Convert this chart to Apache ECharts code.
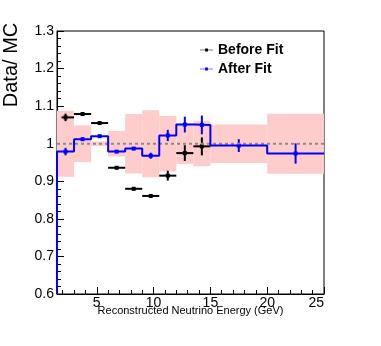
<!DOCTYPE html>
<html>
<head>
<meta charset="utf-8">
<script src="https://cdn.jsdelivr.net/npm/echarts@6/dist/echarts.min.js"></script>
<style>
    html, body { margin: 0; padding: 0; background: #fff; }
    .chart { width: 381px; height: 346px; }
</style>
</head>
<body>
<div class="chart"></div>
<script>
// bins in reconstructed neutrino energy (GeV)
var binEdges = [1.5, 3, 4.5, 6, 7.5, 9, 10.5, 12, 13.5, 15, 20, 25];
var afterFit = [0.979, 1.012, 1.020, 0.979, 0.987, 0.968, 1.022, 1.051, 1.050, 0.995, 0.974];
var afterErr = [0.010, 0.004, 0.004, 0.004, 0.004, 0.008, 0.015, 0.021, 0.025, 0.017, 0.027];
var beforeFit = [1.070, 1.079, 1.055, 0.936, 0.880, 0.861, 0.915, 0.975, 0.993];
var beforeErr = [0.010, 0.004, 0.004, 0.004, 0.004, 0.004, 0.013, 0.021, 0.024];
var beforeXLow = [1.9, 3, 4.5, 6, 7.5, 9, 10.5, 12, 13.5];
var systErr = [0.088, 0.049, 0.006, 0.034, 0.079, 0.089, 0.074, 0.054, 0.060, 0.051, 0.080];
var xTicks = [2, 3, 4, 5, 6, 7, 8, 9, 10, 11, 12, 13, 14, 15, 16, 17, 18, 19, 20, 21, 22, 23, 24, 25];
var xLabels = [5, 10, 15, 20, 25];

(function () {
    var myChart = echarts.init(document.querySelector(".chart"));
    var font = "'Liberation Sans', Arial, Helvetica, sans-serif";

    var bandData = [], stepData = [[binEdges[0], 0.6]], afterPts = [], beforePts = [];
    for (var i = 0; i < afterFit.length; i++) {
        var c = (binEdges[i] + binEdges[i + 1]) / 2;
        bandData.push([binEdges[i], binEdges[i + 1], systErr[i]]);
        stepData.push([binEdges[i], afterFit[i]], [binEdges[i + 1], afterFit[i]]);
        afterPts.push([c, afterFit[i], afterErr[i]]);
    }
    for (var j = 0; j < beforeFit.length; j++) {
        var cb = (binEdges[j] + binEdges[j + 1]) / 2;
        beforePts.push([cb, beforeFit[j], beforeErr[j], beforeXLow[j], binEdges[j + 1]]);
    }

    function errorBars(color, withX) {
        return function (params, api) {
            var x = api.value(0), y = api.value(1), e = api.value(2);
            var top = api.coord([x, y + e]), bot = api.coord([x, y - e]), mid = api.coord([x, y]);
            var kids = [
                { type: 'line', shape: { x1: top[0], y1: top[1], x2: bot[0], y2: bot[1] },
                  style: { stroke: color, lineWidth: 2 } },
                { type: 'rect', shape: { x: mid[0] - 2, y: mid[1] - 2, width: 4, height: 4 },
                  style: { fill: color } }
            ];
            if (withX) {
                var l = api.coord([api.value(3), y]), r = api.coord([api.value(4), y]);
                kids.push({ type: 'line', shape: { x1: l[0], y1: l[1], x2: r[0], y2: r[1] },
                    style: { stroke: color, lineWidth: 2 } });
            }
            return { type: 'group', children: kids };
        };
    }

    var legendIcon = 'path://M0,1.2H14V1.8H0Z M5.5,0H8.5V3H5.5Z';

    option = {
        animation: false,
        backgroundColor: '#fff',
        textStyle: { fontFamily: font },
        grid: {
            left: 57, right: 57, top: 31, bottom: 52,
            show: true, borderColor: '#000', borderWidth: 1,
            containLabel: false
        },
        legend: {
            orient: 'vertical',
            left: 195, top: 38,
            itemWidth: 13, itemHeight: 3, itemGap: 5,
            textStyle: { fontSize: 14, fontWeight: 'bold', color: '#000', lineHeight: 14 },
            data: [
                { name: 'Before Fit', icon: legendIcon, itemStyle: { color: '#000' } },
                { name: 'After Fit', icon: legendIcon, itemStyle: { color: '#0000ff' } }
            ]
        },
        xAxis: [{
            type: 'value', min: 1.5, max: 25,
            axisLine: { lineStyle: { color: '#000', width: 1 } },
            axisTick: { inside: true, length: 4, customValues: xTicks, lineStyle: { color: '#000' } },
            axisLabel: { customValues: xLabels, color: '#000', fontSize: 14, margin: 2, alignMaxLabel: 'right' },
            splitLine: { show: false }
        }, {
            type: 'value', min: 1.5, max: 25, position: 'bottom', gridIndex: 0,
            axisLine: { show: false },
            axisTick: { inside: true, length: 7, customValues: xLabels, lineStyle: { color: '#000' } },
            axisLabel: { show: false },
            splitLine: { show: false }
        }],
        yAxis: {
            type: 'value', min: 0.6, max: 1.3, interval: 0.1,
            axisLine: { show: true, lineStyle: { color: '#000', width: 1 } },
            axisTick: { inside: true, length: 7, lineStyle: { color: '#000' } },
            minorTick: { show: true, splitNumber: 5, length: 4, lineStyle: { color: '#000' } },
            axisLabel: { color: '#000', fontSize: 14, margin: 3 },
            splitLine: { show: false }
        },
        graphic: [{
            type: 'text', x: 11, y: 65, rotation: Math.PI / 2,
            style: { text: 'Data/ MC', font: '20px ' + font, fill: '#000', align: 'center', verticalAlign: 'middle' }
        }, {
            type: 'text', x: 190.5, y: 311,
            style: { text: 'Reconstructed Neutrino Energy (GeV)', font: '11px ' + font, fill: '#000', align: 'center', verticalAlign: 'middle' }
        }],
        series: [
            {
                name: 'syst', type: 'custom', data: bandData,
                renderItem: function (params, api) {
                    var e = api.value(2);
                    var p1 = api.coord([api.value(0), 1 + e]), p2 = api.coord([api.value(1), 1 - e]);
                    return { type: 'rect', shape: { x: p1[0], y: p1[1], width: p2[0] - p1[0], height: p2[1] - p1[1] },
                        style: { fill: '#ffcccc' } };
                }
            },
            {
                name: 'unity', type: 'line', data: [[1.5, 1], [25, 1]], symbol: 'none',
                lineStyle: { color: '#8a8a8a', width: 2, type: [3, 3] }
            },
            {
                name: 'After Fit', type: 'line', data: stepData, symbol: 'none',
                itemStyle: { color: '#0000ff' },
                lineStyle: { color: '#0000ff', width: 2 }
            },
            {
                name: 'After Fit', type: 'custom', data: afterPts,
                itemStyle: { color: '#0000ff' },
                renderItem: errorBars('#0000ff', false)
            },
            {
                name: 'Before Fit', type: 'custom', data: beforePts,
                itemStyle: { color: '#000' },
                renderItem: errorBars('#000', true)
            }
        ]
    };

    myChart.setOption(option);
    window.addEventListener("resize", function () {
        myChart.resize();
    });
})();
</script>
</body>
</html>
